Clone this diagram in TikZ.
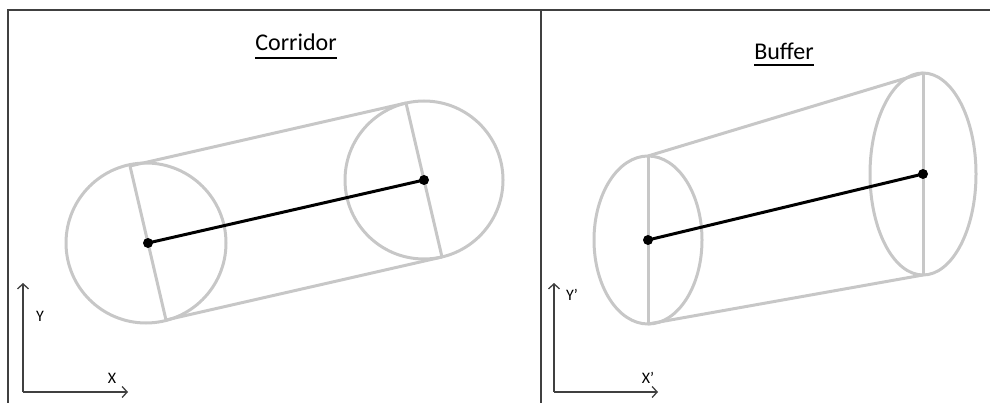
\documentclass[tikz,border=0pt]{standalone}
\usepackage{fontspec}
\setmainfont{Carlito}
\usetikzlibrary{arrows.meta}

\begin{document}
\begin{tikzpicture}[x=1pt,y=-1pt,
    frame/.style={draw=black!75,line width=1.3pt},
    shell/.style={draw=black!22,line width=3pt},
    spine/.style={draw=black,line width=3pt},
    dot/.style={circle,fill=black,inner sep=0pt,minimum size=10pt},
    title/.style={font=\fontsize{24}{28}\selectfont,inner sep=0pt,anchor=base},
    uline/.style={draw=black,line width=1.8pt},
    axis/.style={draw=black!75,line width=1.3pt,-{Straight Barb[length=5pt,width=11pt]}},
    lbl/.style={font=\fontsize{16}{19}\selectfont,inner sep=0pt}]
    \useasboundingbox (0,0) rectangle (990,403);
    % table frame
    \coordinate (fa) at (8,403);
    \coordinate (fb) at (8,10);
    \coordinate (fc) at (990,10);
    \coordinate (fd) at (541,10);
    \coordinate (fe) at (541,403);
    \draw[frame] (fa) -- (fb) -- (fc);
    \draw[frame] (fd) -- (fe);

    % corridor
    \node[title] (tc) at (296,51) {Corridor};
    \draw[uline] ([yshift=-7pt]tc.base west) -- ([yshift=-7pt]tc.base east);
    \coordinate (a1) at (148,243);
    \coordinate (a2) at (424,180);
    \coordinate (p1) at (130,166);
    \coordinate (q1) at (166,320);
    \coordinate (p2) at (406,103);
    \coordinate (q2) at (442,257);
    \draw[shell] (146,243) circle [radius=80];
    \draw[shell] (a2) circle [radius=79];
    \draw[shell] (p1) -- (q1);
    \draw[shell] (p2) -- (q2);
    \draw[shell] (p1) -- (p2);
    \draw[shell] (q1) -- (q2);
    \draw[spine] (a1) -- (a2);
    \node[dot] (d1) at (a1) {};
    \node[dot] (d2) at (a2) {};

    % buffer
    \node[title] (tb) at (784,60) {Buffer};
    \draw[uline] ([yshift=-5pt]tb.base west) -- ([yshift=-5pt]tb.base east);
    \coordinate (b1) at (648,240);
    \coordinate (b2) at (923,174);
    \coordinate (u1) at (648,156);
    \coordinate (v1) at (648,324);
    \coordinate (u2) at (923,73);
    \coordinate (v2) at (923,275);
    \draw[shell] (b1) ellipse [x radius=54,y radius=84];
    \draw[shell] (b2) ellipse [x radius=53,y radius=101];
    \draw[shell] (u1) -- (v1);
    \draw[shell] (u2) -- (v2);
    \draw[shell] (u1) -- (u2);
    \draw[shell] (v1) -- (v2);
    \draw[spine] (b1) -- (b2);
    \node[dot] (e1) at (b1) {};
    \node[dot] (e2) at (b2) {};

    % axes
    \coordinate (o1) at (23,392);
    \coordinate (y1) at (23,283);
    \coordinate (x1) at (128,392);
    \draw[axis] (o1) -- (y1);
    \draw[axis] (o1) -- (x1);
    \node[lbl] (ly1) at (40,316) {Y};
    \node[lbl] (lx1) at (112,378) {X};
    \coordinate (o2) at (554,392);
    \coordinate (y2) at (554,283);
    \coordinate (x2) at (658,392);
    \draw[axis] (o2) -- (y2);
    \draw[axis] (o2) -- (x2);
    \node[lbl] (ly2) at (572,295) {Y’};
    \node[lbl] (lx2) at (648,378) {X’};
\end{tikzpicture}
\end{document}
